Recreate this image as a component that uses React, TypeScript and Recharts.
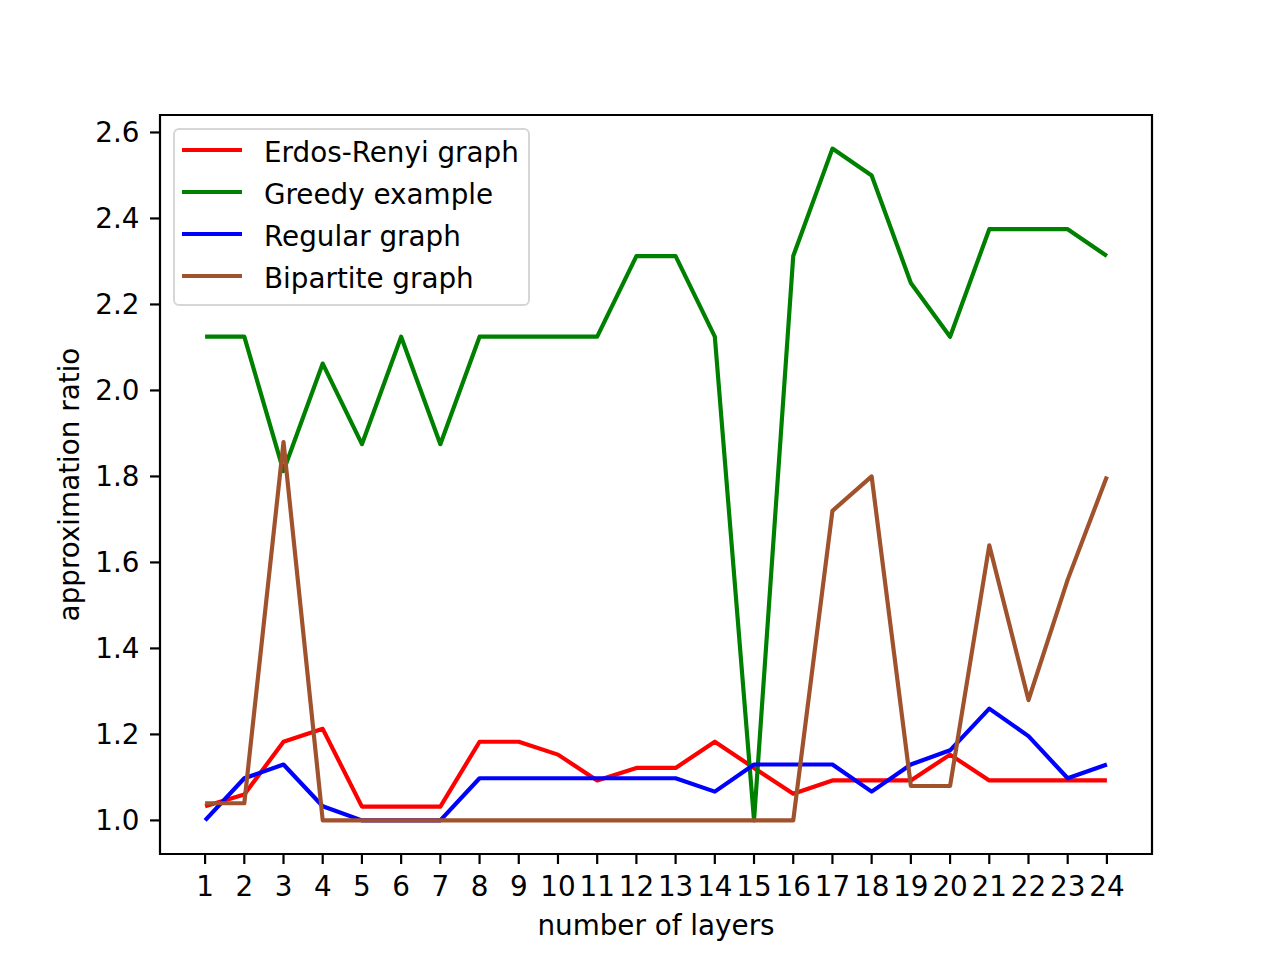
import React from 'react';
import { LineChart, Line, XAxis, YAxis, Legend, ReferenceArea } from 'recharts';

const layers = [1, 2, 3, 4, 5, 6, 7, 8, 9, 10, 11, 12, 13, 14, 15, 16, 17, 18, 19, 20, 21, 22, 23, 24];
const erdosRenyi = [1.033, 1.06, 1.183, 1.213, 1.032, 1.032, 1.032, 1.183, 1.183, 1.153, 1.093, 1.122, 1.122, 1.183, 1.122, 1.062, 1.093, 1.093, 1.093, 1.153, 1.093, 1.093, 1.093, 1.093];
const greedy = [2.125, 2.125, 1.8125, 2.0625, 1.875, 2.125, 1.875, 2.125, 2.125, 2.125, 2.125, 2.3125, 2.3125, 2.125, 1.0, 2.3125, 2.5625, 2.5, 2.25, 2.125, 2.375, 2.375, 2.375, 2.3125];
const regular = [1.0, 1.098, 1.13, 1.033, 1.0, 1.0, 1.0, 1.098, 1.098, 1.098, 1.098, 1.098, 1.098, 1.067, 1.13, 1.13, 1.13, 1.067, 1.13, 1.163, 1.26, 1.196, 1.098, 1.13];
const bipartite = [1.04, 1.04, 1.88, 1.0, 1.0, 1.0, 1.0, 1.0, 1.0, 1.0, 1.0, 1.0, 1.0, 1.0, 1.0, 1.0, 1.72, 1.8, 1.08, 1.08, 1.64, 1.28, 1.56, 1.8];
const yTicks = [1.0, 1.2, 1.4, 1.6, 1.8, 2.0, 2.2, 2.4, 2.6];
const seriesNames = ['Erdos-Renyi graph', 'Greedy example', 'Regular graph', 'Bipartite graph'];

const xDomain: [number, number] = [-0.15, 25.15];
const yDomain: [number, number] = [0.921875, 2.640625];

const data = layers.map((layer, i) => ({
  layer,
  erdos: erdosRenyi[i],
  greedy: greedy[i],
  regular: regular[i],
  bipartite: bipartite[i],
}));

const FONT = 'DejaVu Sans';
const FS = 27.8;
const LW = 4.17;

const renderLegend = (props: any) => {
  const payload = [...(props.payload || [])].sort(
    (a: any, b: any) => seriesNames.indexOf(a.value) - seriesNames.indexOf(b.value)
  );
  return (
    <div
      style={{
        boxSizing: 'border-box',
        width: 357,
        height: 178,
        border: '2px solid #d6d6d6',
        borderRadius: 6,
        background: 'rgba(255,255,255,0.8)',
        position: 'relative',
        fontFamily: FONT,
        fontSize: FS,
        color: '#000',
      }}
    >
      {payload.map((entry: any, i: number) => (
        <div
          key={i}
          style={{ position: 'absolute', left: 0, top: 1 + i * 42, height: 42, width: '100%' }}
        >
          <div
            style={{
              position: 'absolute',
              left: 7,
              top: 16.6,
              width: 60,
              height: 4.2,
              background: entry.color,
            }}
          />
          <div
            style={{
              position: 'absolute',
              left: 89,
              top: 1,
              lineHeight: '42px',
              whiteSpace: 'nowrap',
            }}
          >
            {entry.value}
          </div>
        </div>
      ))}
    </div>
  );
};

export default function App() {
  return (
    <div style={{ width: 1280, height: 960, background: '#fff' }}>
      <style>{`body{margin:0;background:#fff}`}</style>
      <LineChart
        width={1280}
        height={960}
        data={data}
        margin={{ top: 115, right: 128, bottom: 16, left: 60 }}
      >
        <XAxis
          dataKey="layer"
          type="number"
          domain={xDomain}
          ticks={layers}
          interval={0}
          allowDataOverflow
          height={90}
          axisLine={false}
          tickSize={10}
          tickMargin={12}
          tickLine={{ stroke: '#000', strokeWidth: 2.2 }}
          tick={{ fill: '#000', fontSize: FS, fontFamily: FONT }}
          label={{
            value: 'number of layers',
            position: 'insideBottom',
            offset: 9,
            fill: '#000',
            fontSize: FS,
            fontFamily: FONT,
          }}
        />
        <YAxis
          type="number"
          domain={yDomain}
          ticks={yTicks}
          allowDataOverflow
          width={100}
          axisLine={false}
          tickSize={10}
          tickMargin={10.5}
          tickLine={{ stroke: '#000', strokeWidth: 2.2 }}
          tick={{ fill: '#000', fontSize: FS, fontFamily: FONT }}
          tickFormatter={(v: number) => v.toFixed(1)}
          label={{
            value: 'approximation ratio',
            angle: -90,
            position: 'insideLeft',
            offset: 9,
            fill: '#000',
            fontSize: FS,
            fontFamily: FONT,
            style: { textAnchor: 'middle' },
          }}
        />
        <Line
          type="linear"
          dataKey="erdos"
          name={seriesNames[0]}
          stroke="#ff0000"
          strokeWidth={LW}
          strokeLinejoin="round"
          dot={false}
          activeDot={false}
          isAnimationActive={false}
        />
        <Line
          type="linear"
          dataKey="greedy"
          name={seriesNames[1]}
          stroke="#008000"
          strokeWidth={LW}
          strokeLinejoin="round"
          dot={false}
          activeDot={false}
          isAnimationActive={false}
        />
        <Line
          type="linear"
          dataKey="regular"
          name={seriesNames[2]}
          stroke="#0000ff"
          strokeWidth={LW}
          strokeLinejoin="round"
          dot={false}
          activeDot={false}
          isAnimationActive={false}
        />
        <Line
          type="linear"
          dataKey="bipartite"
          name={seriesNames[3]}
          stroke="#a0522d"
          strokeWidth={LW}
          strokeLinejoin="round"
          dot={false}
          activeDot={false}
          isAnimationActive={false}
        />
        <ReferenceArea
          x1={xDomain[0]}
          x2={xDomain[1]}
          y1={yDomain[0]}
          y2={yDomain[1]}
          fill="none"
          fillOpacity={0}
          stroke="#000"
          strokeWidth={2.2}
          ifOverflow="visible"
        />
        <Legend
          layout="vertical"
          align="center"
          verticalAlign="middle"
          content={renderLegend}
          wrapperStyle={{ position: 'absolute', left: 173, top: 128, width: 357, height: 178 }}
        />
      </LineChart>
    </div>
  );
}
